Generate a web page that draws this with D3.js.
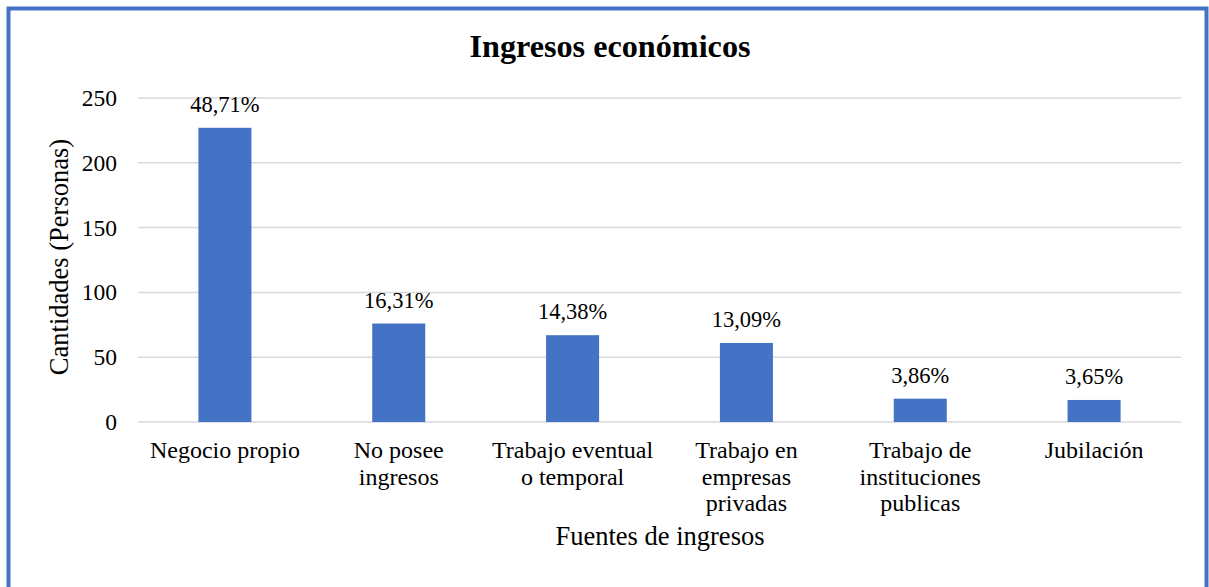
<!DOCTYPE html>
<html><head><meta charset="utf-8">
<script src="https://cdn.jsdelivr.net/npm/d3@7"></script>
<style>body{margin:0;background:#fff}svg{display:block}</style>
</head><body>
<svg id="c" width="1209" height="587"></svg>
<script>
const categories = [["Negocio propio"],["No posee","ingresos"],["Trabajo eventual","o temporal"],["Trabajo en","empresas","privadas"],["Trabajo de","instituciones","publicas"],["Jubilación"]];
const values = [227, 76, 67, 61, 18, 17];
const percentLabels = ["48,71%","16,31%","14,38%","13,09%","3,86%","3,65%"];
const yTicks = [0, 50, 100, 150, 200, 250];
const title = "Ingresos económicos";
const xTitle = "Fuentes de ingresos";
const yTitle = "Cantidades (Personas)";

(function(){
const svg = d3.select("#c").attr("font-family","'Liberation Serif', Tinos, 'Times New Roman', 'DejaVu Serif', serif").attr("fill","#000");
svg.append("rect").attr("x",8.5).attr("y",8.5).attr("width",1198).attr("height",600)
  .attr("fill","#fff").attr("stroke","#4472C4").attr("stroke-width",4);

const pLeft=138,pRight=1181,pTop=98,pBottom=422;
const x = d3.scaleBand().domain(d3.range(values.length)).range([pLeft,pRight]).paddingInner(0.695).paddingOuter(0.3475);
const y = d3.scaleLinear().domain([0,250]).range([pBottom,pTop]);

svg.append("g").selectAll("line").data(yTicks).join("line")
  .attr("x1",pLeft).attr("x2",pRight).attr("y1",d=>y(d)).attr("y2",d=>y(d))
  .attr("stroke","#d9d9d9").attr("stroke-width",1.5);

svg.append("g").selectAll("text").data(yTicks).join("text")
  .attr("x",117).attr("y",d=>y(d)+8).attr("text-anchor","end").attr("font-size",23.5).text(d=>d);

svg.append("g").selectAll("rect").data(values).join("rect")
  .attr("x",(d,i)=>x(i)).attr("width",x.bandwidth()).attr("y",d=>y(d)).attr("height",d=>y(0)-y(d))
  .attr("fill","#4472C4");

svg.append("g").selectAll("text").data(values).join("text")
  .attr("x",(d,i)=>x(i)+x.bandwidth()/2).attr("y",d=>y(d)-16).attr("text-anchor","middle")
  .attr("font-size",22.5).text((d,i)=>percentLabels[i]);

const cat = svg.append("g").selectAll("text").data(categories).join("text")
  .attr("text-anchor","middle").attr("font-size",24)
  .attr("transform",(d,i)=>`translate(${x(i)+x.bandwidth()/2},458)`);
cat.selectAll("tspan").data(d=>d).join("tspan").attr("x",0).attr("y",(d,j)=>j*26.7).text(d=>d);

svg.append("text").attr("x",610).attr("y",57).attr("text-anchor","middle").attr("font-size",32.2).attr("font-weight","bold").text(title);
svg.append("text").attr("x",660).attr("y",545).attr("text-anchor","middle").attr("font-size",26.5).text(xTitle);
svg.append("text").attr("transform","translate(68,257) rotate(-90)").attr("text-anchor","middle").attr("font-size",26.5).text(yTitle);
})();
</script>
</body></html>
